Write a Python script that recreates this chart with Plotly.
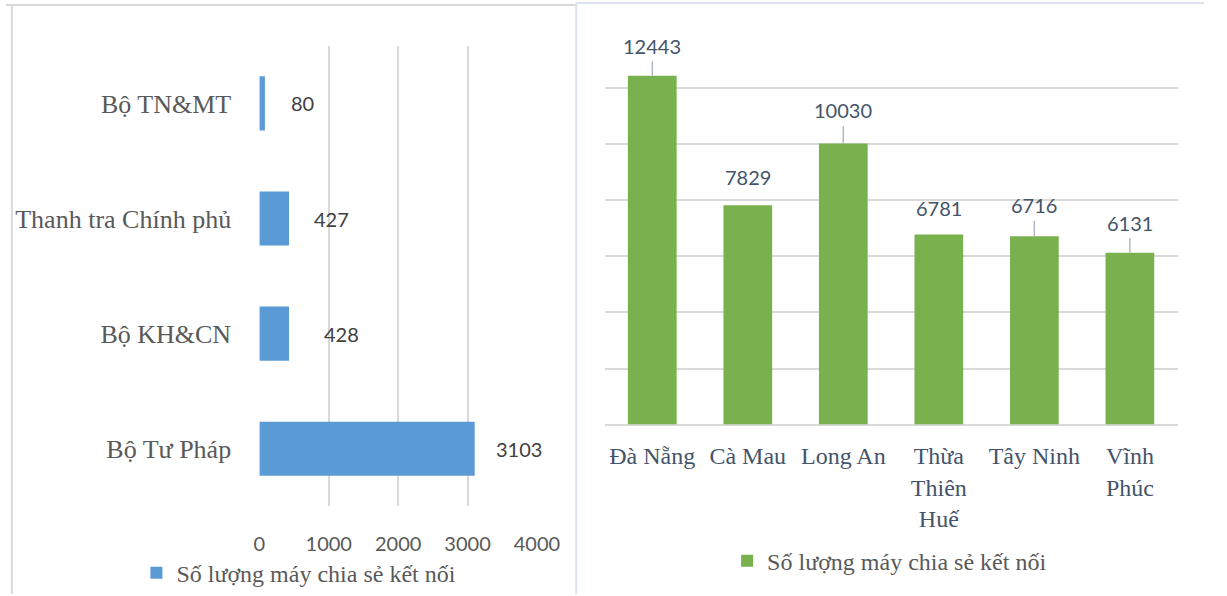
import plotly.graph_objects as go

# ---------------- data ----------------
left_categories = ["Bộ Tư Pháp", "Bộ KH&CN", "Thanh tra Chính phủ", "Bộ TN&MT"]
left_values = [3103, 428, 427, 80]
left_ticks = [0, 1000, 2000, 3000, 4000]

right_categories = ["Đà Nẵng", "Cà Mau", "Long An", "Thừa<br>Thiên<br>Huế", "Tây Ninh", "Vĩnh<br>Phúc"]
right_values = [12443, 7829, 10030, 6781, 6716, 6131]

series_name = "Số lượng máy chia sẻ kết nối"

# label styling (pixel offsets, leader line flags)
left_label_shift = [19, 33, 23, 24]
right_label_offset = [30, 28, 33, 27, 31, 30]
right_leader = [True, False, True, False, True, True]

W, H = 1227, 596
def px(x):
    return x / W
def py(y):
    return (H - y) / H

SERIF = "Liberation Serif, Times New Roman, serif"
SANS = "Lato, Carlito, Calibri, sans-serif"

fig = go.Figure()

fig.add_trace(go.Bar(
    y=left_categories, x=left_values, orientation="h",
    width=0.47, marker=dict(color="#5B9BD5", line=dict(width=0)),
    name=series_name, legend="legend", xaxis="x", yaxis="y",
    hoverinfo="x+y",
))

fig.add_trace(go.Bar(
    x=right_categories, y=right_values,
    width=0.51, marker=dict(color="#78B14E", line=dict(width=0)),
    name=series_name, legend="legend2", xaxis="x2", yaxis="y2",
    hoverinfo="x+y",
))

annotations = []
for cat, val, sh in zip(left_categories, left_values, left_label_shift):
    annotations.append(dict(
        x=val, y=cat, xref="x", yref="y", text=str(val), showarrow=False,
        xanchor="left", yanchor="middle", xshift=sh,
        font=dict(family=SANS, size=20, color="#404040"),
    ))

for cat, val, off, lead in zip(right_categories, right_values, right_label_offset, right_leader):
    if lead:
        annotations.append(dict(
            x=cat, y=val, xref="x2", yref="y2", text=str(val),
            showarrow=True, arrowhead=0, arrowwidth=1.5, arrowcolor="#ADB9CA",
            ax=0, ay=-off, borderpad=3,
            font=dict(family=SANS, size=20, color="#44546A"),
        ))
    else:
        annotations.append(dict(
            x=cat, y=val, xref="x2", yref="y2", text=str(val), showarrow=False,
            yanchor="middle", yshift=off,
            font=dict(family=SANS, size=20, color="#44546A"),
        ))

shapes = [
    # left panel border
    dict(type="line", xref="paper", yref="paper", x0=px(0), x1=px(584), y0=py(5), y1=py(5),
         line=dict(color="#D9D9D9", width=2)),
    dict(type="line", xref="paper", yref="paper", x0=px(6), x1=px(6), y0=py(5), y1=py(596),
         line=dict(color="#D9D9D9", width=2)),
    # right panel border
    dict(type="line", xref="paper", yref="paper", x0=px(584), x1=px(1227), y0=py(3), y1=py(3),
         line=dict(color="#DDE3EC", width=2)),
    dict(type="line", xref="paper", yref="paper", x0=px(584), x1=px(584), y0=py(3), y1=py(596),
         line=dict(color="#DDE3EC", width=2)),
]

fig.update_layout(
    width=W, height=H, autosize=False,
    margin=dict(l=0, r=0, t=0, b=0),
    paper_bgcolor="white", plot_bgcolor="rgba(0,0,0,0)",
    showlegend=True,
    xaxis=dict(
        domain=[px(259.5), px(544)], range=[0, 4003], tickvals=left_ticks,
        showgrid=True, gridcolor="#D9D9D9", gridwidth=1.5, zeroline=False,
        showline=False, ticks="outside", ticklen=20, tickcolor="rgba(0,0,0,0)",
        tickfont=dict(family=SANS, size=20, color="#595959"), anchor="y",
        fixedrange=True,
    ),
    yaxis=dict(
        domain=[py(508), py(46)], type="category",
        showgrid=False, zeroline=False, showline=False,
        ticks="outside", ticklen=22, tickcolor="rgba(0,0,0,0)",
        tickfont=dict(family=SERIF, size=26, color="#595959"), anchor="x",
        fixedrange=True,
    ),
    xaxis2=dict(
        domain=[px(613), px(1200)], type="category",
        showgrid=False, zeroline=False, showline=False,
        ticks="outside", ticklen=10, tickcolor="rgba(0,0,0,0)",
        tickfont=dict(family=SERIF, size=24, color="#44546A"), anchor="y2",
        fixedrange=True,
    ),
    yaxis2=dict(
        domain=[py(426), py(32)], range=[0, 14010], dtick=2000,
        showgrid=True, gridcolor="#D9D9D9", gridwidth=2, zeroline=True,
        zerolinecolor="#D9D9D9", zerolinewidth=2,
        showticklabels=False, showline=False, anchor="x2",
        fixedrange=True,
    ),
    legend=dict(
        x=px(300), y=py(575), xanchor="center", yanchor="middle",
        orientation="h", font=dict(family=SERIF, size=24, color="#595959"),
        bgcolor="rgba(0,0,0,0)", itemwidth=30,
    ),
    legend2=dict(
        x=px(905), y=py(563), xanchor="center", yanchor="middle",
        orientation="h", font=dict(family=SERIF, size=24, color="#595959"),
        bgcolor="rgba(0,0,0,0)", itemwidth=30,
    ),
    annotations=annotations,
    shapes=shapes,
)

fig.write_html(
    "out.html",
    config={"responsive": False, "displayModeBar": False},
    post_script="document.body.style.margin='0';document.body.style.overflow='hidden';",
)
